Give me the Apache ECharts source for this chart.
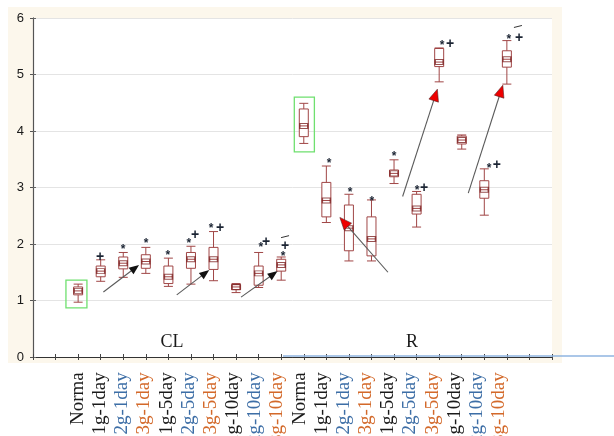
<!DOCTYPE html>
<html>
<head>
<meta charset="utf-8">
<script src="https://cdn.jsdelivr.net/npm/echarts@6/dist/echarts.min.js"></script>
<style>
  html, body { margin: 0; padding: 0; background: #fff; }
  #chart { width: 614px; height: 436px; }
</style>
</head>
<body>
<div id="chart"></div>
<script>
// categories along the axis (CL group then R group)
const groupNames = ['Norma', '1g-1day', '2g-1day', '3g-1day', '1g-5day', '2g-5day', '3g-5day', '1g-10day', '2g-10day', '3g-10day']
const categories = groupNames.concat(groupNames)

// [min, Q1, median, Q3, max]
const clBoxes = [
  [0.97, 1.10, 1.17, 1.24, 1.29],
  [1.34, 1.42, 1.52, 1.61, 1.72],
  [1.41, 1.56, 1.66, 1.77, 1.85],
  [1.48, 1.57, 1.69, 1.81, 1.94],
  [1.25, 1.30, 1.42, 1.61, 1.75],
  [1.29, 1.57, 1.73, 1.85, 1.96],
  [1.35, 1.55, 1.73, 1.94, 2.22],
  [1.14, 1.19, 1.24, 1.28, 1.30],
  [1.23, 1.27, 1.48, 1.61, 1.85],
  [1.36, 1.52, 1.63, 1.73, 1.77]
]
const rBoxes = [
  [3.78, 3.90, 4.09, 4.39, 4.49],
  [2.38, 2.48, 2.77, 3.09, 3.38],
  [1.70, 1.88, 2.28, 2.69, 2.88],
  [1.70, 1.79, 2.09, 2.48, 2.78],
  [3.07, 3.19, 3.25, 3.31, 3.49],
  [2.30, 2.53, 2.63, 2.88, 2.93],
  [4.87, 5.14, 5.22, 5.46, 5.47],
  [3.68, 3.77, 3.84, 3.91, 3.93],
  [2.51, 2.81, 2.96, 3.12, 3.33],
  [4.83, 5.13, 5.27, 5.42, 5.60]
]
const boxes = clBoxes.concat(rBoxes)

// y axis ticks
const yTicks = [0, 1, 2, 3, 4, 5, 6]

// significance marks [x position on 0..23 frame scale, y value, symbol]
const marks = [
  [2.97, 1.77, '+'],
  [3.99, 1.95, '*'], [5.01, 2.05, '*'], [5.98, 1.84, '*'],
  [6.91, 2.05, '*'], [7.18, 2.15, '+'],
  [7.89, 2.32, '*'], [8.29, 2.28, '+'],
  [10.10, 1.98, '*'], [10.33, 2.04, '+'],
  [11.08, 1.82, '*'], [11.17, 1.96, '+'], [11.17, 2.13, '-'],
  [13.12, 3.47, '*'], [14.05, 2.97, '*'], [15.02, 2.80, '*'], [16.0, 3.59, '*'],
  [17.02, 2.99, '*'], [17.33, 2.99, '+'],
  [18.13, 5.56, '*'], [18.48, 5.54, '+'],
  [20.21, 3.38, '*'], [20.56, 3.40, '+'],
  [21.09, 5.67, '*'], [21.54, 5.65, '+'], [21.49, 5.85, '-']
]

// arrows [x1, y1, x2, y2, head colour]
const arrows = [
  [3.12, 1.15, 4.70, 1.63, 'black'],
  [6.37, 1.10, 7.81, 1.54, 'black'],
  [9.22, 1.06, 10.84, 1.52, 'black'],
  [15.73, 1.50, 13.60, 2.47, 'red'],
  [16.38, 2.84, 17.92, 4.74, 'red'],
  [19.29, 2.90, 20.82, 4.81, 'red']
]

// green highlight frames [x1, y1, x2, y2]
const frames = [
  [1.46, 1.36, 2.39, 0.87],
  [11.58, 4.60, 12.47, 3.63]
]

const labelColor = (name) => {
  if (name.indexOf('2g') === 0) return '#3d6ea6'
  if (name.indexOf('3g') === 0) return '#d3692a'
  return '#1a1a1a'
}

const chart = echarts.init(document.getElementById('chart'))

const frameAxis = (pos) => ({
  type: 'value', gridIndex: 0, position: pos, min: 0, max: 23, interval: 1,
  axisLine: { show: true, lineStyle: { color: '#333', width: 1 } },
  axisTick: { show: true, inside: true, length: 3, lineStyle: { color: '#444' } },
  axisLabel: { show: false },
  splitLine: { show: false }
})

const option = {
  backgroundColor: '#fff',
  animation: false,
  graphic: [
    { type: 'rect', z: -20, shape: { x: 8, y: 7, width: 554, height: 356 }, style: { fill: '#fcf7ec' } },
    { type: 'rect', z: -19, shape: { x: 33, y: 18, width: 519, height: 339 }, style: { fill: '#fff' } },
    { type: 'line', z: 50, shape: { x1: 283, y1: 356, x2: 614, y2: 356 }, style: { stroke: '#8fb4e0', lineWidth: 1.5 } },
    { type: 'text', z: 50, x: 172, y: 342, style: { text: 'CL', fill: '#1a1a1a', fontFamily: 'Liberation Serif', fontSize: 18, align: 'center', verticalAlign: 'middle' } },
    { type: 'text', z: 50, x: 412, y: 342, style: { text: 'R', fill: '#1a1a1a', fontFamily: 'Liberation Serif', fontSize: 18, align: 'center', verticalAlign: 'middle' } }
  ],
  grid: [
    { left: 33, right: 62, top: 18, bottom: 79 },
    { left: 66.85, right: 95.85, top: 18, bottom: 79 },
    { left: 78, right: 115, top: 356, height: 1 }
  ],
  xAxis: [
    frameAxis('bottom'),
    frameAxis('top'),
    {
      type: 'category', gridIndex: 1, data: categories, boundaryGap: true,
      axisLine: { show: false }, axisTick: { show: false }, axisLabel: { show: false }, splitLine: { show: false }
    },
    {
      type: 'category', gridIndex: 2, data: categories, boundaryGap: false,
      axisLine: { show: false }, axisTick: { show: false },
      axisLabel: {
        interval: 0, rotate: 90, margin: 16,
        fontFamily: 'Liberation Serif', fontSize: 19,
        color: (value) => labelColor(value)
      }
    }
  ],
  yAxis: [
    {
      type: 'value', gridIndex: 0, position: 'left', min: 0, max: 6, interval: 1,
      axisLine: { show: true, lineStyle: { color: '#666', width: 1.2 } },
      axisTick: { show: true, inside: true, length: 3, lineStyle: { color: '#666' } },
      axisLabel: { margin: 9, fontFamily: 'Liberation Sans', fontSize: 13, color: '#1a1a1a',
        formatter: (v) => yTicks.indexOf(v) >= 0 ? String(v) : '' },
      splitLine: { show: true, lineStyle: { color: '#e4e4e4', width: 1 } }
    },
    {
      type: 'value', gridIndex: 0, position: 'right', min: 0, max: 6, interval: 1,
      axisLine: { show: true, lineStyle: { color: '#555', width: 1 } },
      axisTick: { show: true, inside: true, length: 3, lineStyle: { color: '#555' } },
      axisLabel: { show: false }, splitLine: { show: false }
    },
    { type: 'value', gridIndex: 1, min: 0, max: 6, show: false },
    { type: 'value', gridIndex: 2, show: false }
  ],
  series: [
    {
      type: 'boxplot', xAxisIndex: 2, yAxisIndex: 2,
      data: boxes,
      boxWidth: [9, 9],
      itemStyle: { color: '#fff', borderColor: '#a04646', borderWidth: 1 }
    },
    {
      type: 'scatter', xAxisIndex: 2, yAxisIndex: 2,
      data: boxes.map((b, i) => [i, b[2]]),
      symbol: 'rect', symbolSize: [8, 5],
      itemStyle: { color: 'rgba(255,255,255,0)', borderColor: '#7e2424', borderWidth: 1.2 },
      z: 3
    },
    {
      type: 'custom', xAxisIndex: 0, yAxisIndex: 0,
      data: frames,
      renderItem: (params, api) => {
        const p1 = api.coord([api.value(0), api.value(1)])
        const p2 = api.coord([api.value(2), api.value(3)])
        return {
          type: 'rect',
          shape: { x: p1[0], y: p1[1], width: p2[0] - p1[0], height: p2[1] - p1[1] },
          style: { fill: 'none', stroke: '#6fe06f', lineWidth: 1.3 }
        }
      },
      z: 4
    },
    {
      type: 'custom', xAxisIndex: 0, yAxisIndex: 0,
      data: arrows,
      renderItem: (params, api) => {
        const a = arrows[params.dataIndex]
        const p1 = api.coord([a[0], a[1]])
        const p2 = api.coord([a[2], a[3]])
        const dx = p2[0] - p1[0], dy = p2[1] - p1[1]
        const len = Math.sqrt(dx * dx + dy * dy)
        const ux = dx / len, uy = dy / len
        const red = a[4] === 'red'
        const hl = red ? 12 : 10, hw = red ? 5 : 4
        const bx = p2[0] - ux * hl, by = p2[1] - uy * hl
        return {
          type: 'group',
          children: [
            { type: 'line', shape: { x1: p1[0], y1: p1[1], x2: bx + ux * 2, y2: by + uy * 2 },
              style: { stroke: '#5a5a5a', lineWidth: 1.1 } },
            { type: 'polygon',
              shape: { points: [p2, [bx - uy * hw, by + ux * hw], [bx + uy * hw, by - ux * hw]] },
              style: red ? { fill: '#ee0000', stroke: '#552222', lineWidth: 0.6 } : { fill: '#111' } }
          ]
        }
      },
      z: 5
    },
    {
      type: 'custom', xAxisIndex: 0, yAxisIndex: 0,
      data: marks.map(m => [m[0], m[1]]),
      renderItem: (params, api) => {
        const m = marks[params.dataIndex]
        const p = api.coord([m[0], m[1]])
        if (m[2] === '-') {
          return { type: 'line', shape: { x1: p[0] - 4, y1: p[1] + 1, x2: p[0] + 4, y2: p[1] - 1 },
            style: { stroke: '#333', lineWidth: 1 } }
        }
        const star = m[2] === '*'
        return {
          type: 'text', x: p[0], y: p[1] + (star ? 3 : 0),
          style: { text: m[2], fill: '#1b2433', fontFamily: 'Liberation Sans',
            fontSize: star ? 12 : 14, fontWeight: 'bold', align: 'center', verticalAlign: 'middle' }
        }
      },
      z: 6
    }
  ]
}

chart.setOption(option)
</script>
</body>
</html>
